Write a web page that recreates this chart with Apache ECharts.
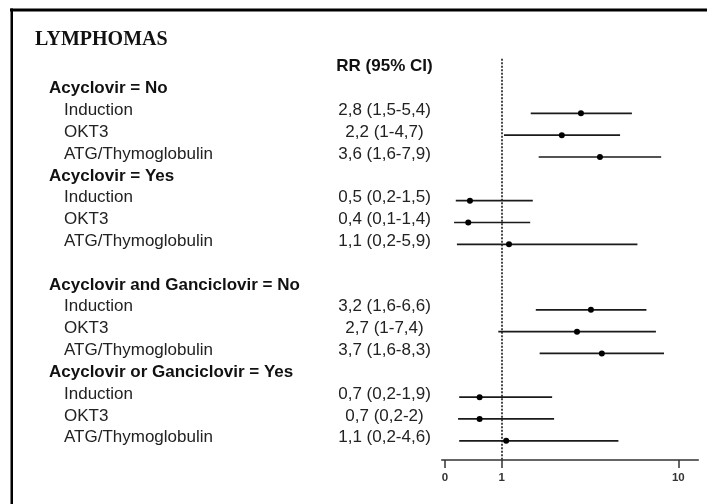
<!DOCTYPE html>
<html>
<head>
<meta charset="utf-8">
<script src="https://cdn.jsdelivr.net/npm/echarts@6/dist/echarts.min.js"></script>
<style>
html,body{margin:0;padding:0;background:#fff;}
#chart{width:707px;height:504px;}
</style>
</head>
<body>
<div id="chart"></div>
<script>
// ---- data ----
const title = 'LYMPHOMAS';
const columnHeader = 'RR (95% CI)';
const groupHeaders = ['Acyclovir = No', 'Acyclovir = Yes', 'Acyclovir and Ganciclovir = No', 'Acyclovir or Ganciclovir = Yes'];
const groupStartRows = [0, 4, 9, 13];
const treatments = ['Induction', 'OKT3', 'ATG/Thymoglobulin'];
const rrLabels = [
  ['2,8 (1,5-5,4)', '2,2 (1-4,7)', '3,6 (1,6-7,9)'],
  ['0,5 (0,2-1,5)', '0,4 (0,1-1,4)', '1,1 (0,2-5,9)'],
  ['3,2 (1,6-6,6)', '2,7 (1-7,4)', '3,7 (1,6-8,3)'],
  ['0,7 (0,2-1,9)', '0,7 (0,2-2)', '1,1 (0,2-4,6)']
];
// plotted positions
const rrPoint = [
  [2.81, 2.19, 3.60],
  [0.44, 0.41, 1.10],
  [3.20, 2.67, 3.69],
  [0.61, 0.61, 1.06]
];
const rrLow = [
  [1.46, 1.03, 1.62],
  [0.19, 0.16, 0.21],
  [1.56, 0.94, 1.64],
  [0.25, 0.23, 0.25]
];
const rrHigh = [
  [5.46, 4.68, 8.00],
  [1.50, 1.45, 5.87],
  [6.60, 7.47, 8.30],
  [1.93, 1.98, 4.58]
];
const tickValues = [0, 1, 10];
const tickLabels = ['0', '1', '10'];
const refValue = 1;

// ---- scale: linear below 1, log10 from 1 upward ----
const K = 0.321;
function tx(v) { return v < 1 ? (v - 1) * K : Math.log10(v); }

// build rows
const itemData = [];
const textData = [];
textData.push({ value: [0, -1], kind: 'colhead', text: columnHeader });
groupHeaders.forEach((h, g) => {
  const r0 = groupStartRows[g];
  textData.push({ value: [0, r0], kind: 'group', text: h });
  treatments.forEach((t, i) => {
    const r = r0 + 1 + i;
    textData.push({ value: [0, r], kind: 'item', text: t, rr: rrLabels[g][i] });
    itemData.push([tx(rrPoint[g][i]), r, tx(rrLow[g][i]), tx(rrHigh[g][i])]);
  });
});

const LABEL_X_GROUP = 49;
const LABEL_X_ITEM = 64;
const RR_X = 384.5;
const TEXT_DY = -3;
const FONT = '"Liberation Sans", Arial, sans-serif';

const chart = echarts.init(document.getElementById('chart'), null, { renderer: 'canvas' });
chart.setOption({
  animation: false,
  backgroundColor: '#ffffff',
  grid: { left: 441.7, right: 8.7, top: 58.75, bottom: 44 },
  xAxis: {
    type: 'value',
    position: 'bottom',
    min: -0.3398,
    max: 1.1133,
    splitLine: { show: false },
    axisLine: { show: true, onZero: false, lineStyle: { color: '#333', width: 1.5 } },
    axisTick: { show: true, length: 8, lineStyle: { color: '#333', width: 1.5 }, customValues: tickValues.map(tx) },
    axisLabel: {
      customValues: tickValues.map(tx),
      margin: 12,
      fontSize: 11.5,
      fontWeight: 'bold',
      color: '#333',
      fontFamily: FONT,
      formatter: function (val) {
        for (let i = 0; i < tickValues.length; i++) {
          if (Math.abs(tx(tickValues[i]) - val) < 1e-6) return tickLabels[i];
        }
        return '';
      }
    }
  },
  yAxis: {
    type: 'value',
    inverse: true,
    min: -1.5,
    max: 16.88,
    show: false,
    splitLine: { show: false }
  },
  graphic: [
    { type: 'rect', shape: { x: 10, y: 8.5, width: 697, height: 3 }, style: { fill: '#000' }, z: 100 },
    { type: 'rect', shape: { x: 10.5, y: 8.5, width: 2.5, height: 496 }, style: { fill: '#000' }, z: 100 },
    { type: 'text', left: 35, top: 30, style: { text: title, font: 'bold 20px "Liberation Serif", "Times New Roman", serif', fill: '#111' } }
  ],
  series: [
    {
      type: 'custom',
      clip: false,
      data: itemData,
      renderItem: function (params, api) {
        const p = api.coord([api.value(0), api.value(1)]);
        const lo = api.coord([api.value(2), api.value(1)]);
        const hi = api.coord([api.value(3), api.value(1)]);
        return {
          type: 'group',
          children: [
            { type: 'line', shape: { x1: lo[0], y1: lo[1], x2: hi[0], y2: hi[1] }, style: { stroke: '#1a1a1a', lineWidth: 1.7 } },
            { type: 'circle', shape: { cx: p[0], cy: p[1], r: 3 }, style: { fill: '#000' } }
          ]
        };
      },
      markLine: {
        silent: true,
        symbol: 'none',
        label: { show: false },
        lineStyle: { type: [2, 1.5], color: '#333', width: 1.8 },
        data: [{ xAxis: tx(refValue) }]
      },
      z: 5
    },
    {
      type: 'custom',
      clip: false,
      data: textData,
      renderItem: function (params, api) {
        const d = textData[params.dataIndex];
        const y = api.coord([0, api.value(1)])[1] + TEXT_DY;
        const children = [];
        if (d.kind === 'colhead') {
          children.push({ type: 'text', style: { x: RR_X, y: y, text: d.text, font: 'bold 17px ' + FONT, fill: '#111', align: 'center', verticalAlign: 'middle' } });
        } else if (d.kind === 'group') {
          children.push({ type: 'text', style: { x: LABEL_X_GROUP, y: y, text: d.text, font: 'bold 17px ' + FONT, fill: '#111', align: 'left', verticalAlign: 'middle' } });
        } else {
          children.push({ type: 'text', style: { x: LABEL_X_ITEM, y: y, text: d.text, font: '17px ' + FONT, fill: '#222', align: 'left', verticalAlign: 'middle' } });
          children.push({ type: 'text', style: { x: RR_X, y: y, text: d.rr, font: '17px ' + FONT, fill: '#222', align: 'center', verticalAlign: 'middle' } });
        }
        return { type: 'group', children: children };
      },
      z: 6
    }
  ]
});
</script>
</body>
</html>
